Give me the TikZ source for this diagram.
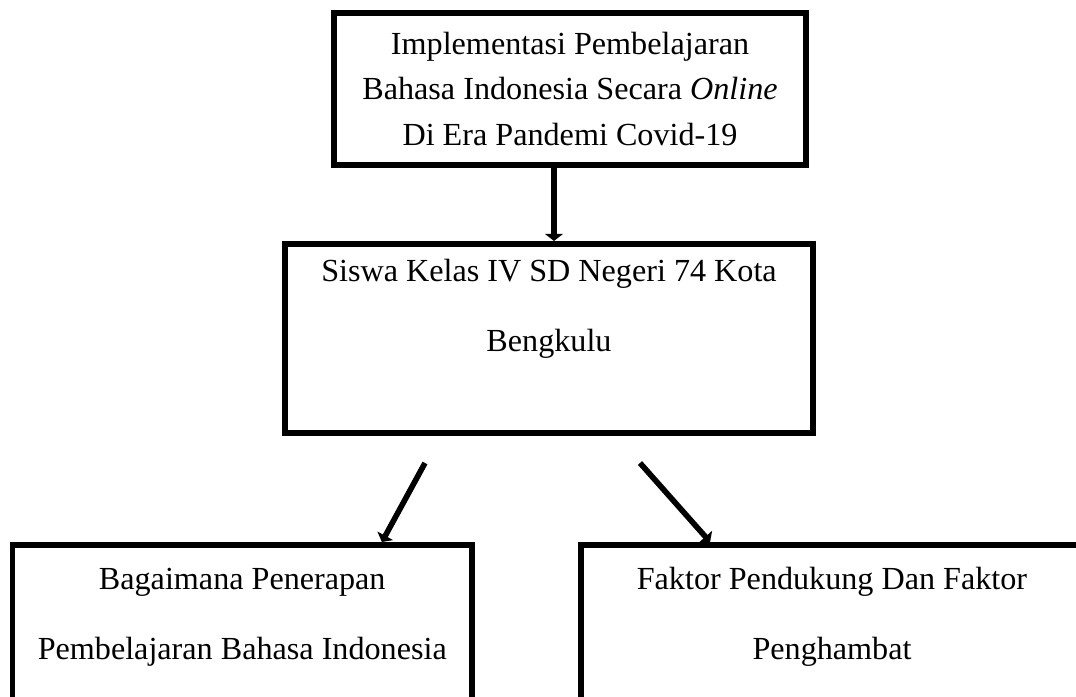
\documentclass[tikz,border=0pt]{standalone}
\usepackage{fontspec}
\setmainfont{Liberation Serif}
\usetikzlibrary{arrows.meta, positioning, calc}

\begin{document}
\begin{tikzpicture}[
  x=1cm, y=1cm,
  box/.style={draw, line width=3.4pt, align=center, inner sep=0pt, font=\fontsize{18.3}{40}\selectfont},
  arr/.style={-{Triangle[width=10pt,length=4pt]}, line width=3.2pt, black}
]
\path[use as bounding box, clip] (0,0) rectangle (21.52,13.94);

\node[box, minimum width=9.44cm, minimum height=3.04cm, font=\fontsize{18.3}{26}\selectfont] (impl) at (11.40,12.16) {Implementasi Pembelajaran\\ Bahasa Indonesia Secara \textit{Online}\\ Di Era Pandemi Covid-19};
\node[box, anchor=north, minimum width=10.56cm, text height=2.16cm, text depth=1.62cm] (siswa) at (10.98,9.12) {Siswa Kelas IV SD Negeri 74 Kota\\ Bengkulu};

\node[box, anchor=north, minimum width=9.19cm, text height=2.30cm, text depth=2.06cm] (terap) at (4.845,3.10) {Bagaimana Penerapan\\ Pembelajaran Bahasa Indonesia};
\node[box, anchor=north, minimum width=10.04cm, text height=2.30cm, text depth=2.06cm] (faktor) at (16.64,3.10) {Faktor Pendukung Dan Faktor\\ Penghambat};

\coordinate (sL) at (8.50,4.68);
\coordinate (sR) at (12.80,4.68);

\draw[arr] ([xshift=-0.32cm]impl.south) -- ([xshift=0.10cm]siswa.north);
\draw[arr] (sL) -- ($(terap.north west)!0.80!(terap.north east)$);
\draw[arr] (sR) -- ($(faktor.north west)!0.26!(faktor.north east)$);
\end{tikzpicture}
\end{document}
